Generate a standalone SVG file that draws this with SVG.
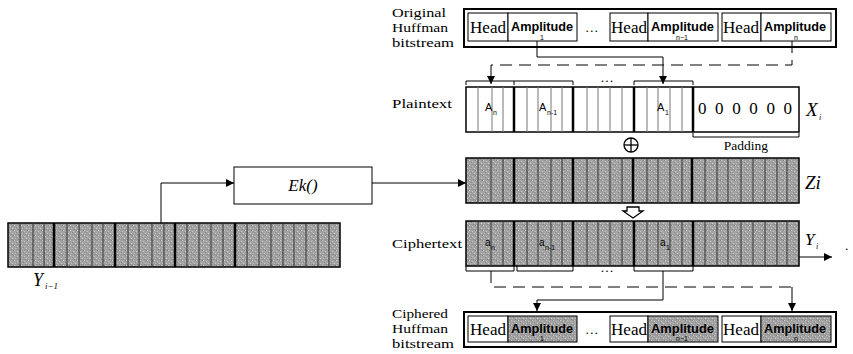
<svg xmlns="http://www.w3.org/2000/svg" width="853" height="354" viewBox="0 0 853 354">
<defs>
<pattern id="tex" width="7" height="5" patternUnits="userSpaceOnUse">
<rect width="7" height="5" fill="#a2a2a2"/>
<rect x="0" y="0" width="1" height="1" fill="#d0d0d0"/>
<rect x="3" y="1" width="1" height="1" fill="#c6c6c6"/>
<rect x="5" y="3" width="1" height="1" fill="#d2d2d2"/>
<rect x="1" y="3" width="1" height="1" fill="#bcbcbc"/>
<rect x="4" y="4" width="1" height="1" fill="#7c7c7c"/>
<rect x="6" y="0" width="1" height="1" fill="#808080"/>
<rect x="2" y="2" width="1" height="1" fill="#888"/>
<rect x="0" y="4" width="7" height="0.5" fill="#959595"/>
</pattern>
<marker id="ah" viewBox="0 0 8 8" refX="8" refY="4" markerWidth="8" markerHeight="8" markerUnits="userSpaceOnUse" orient="auto">
<path d="M0,0 L8,4 L0,8 z" fill="#000"/>
</marker>
</defs>
<style>
.lbl{font-family:"Liberation Serif",serif;font-size:13.5px;fill:#000}
.head{font-family:"Liberation Serif",serif;font-size:16px;fill:#000}
.amp{font-family:"Liberation Sans",sans-serif;font-size:13px;font-weight:bold;fill:#000}
.sub{font-family:"Liberation Sans",sans-serif;font-size:7px;fill:#000}
.it{font-family:"Liberation Serif",serif;font-style:italic;fill:#000}
.box{fill:#fff;stroke:#000;stroke-width:1}
.outer{fill:#fff;stroke:#000;stroke-width:2}
.gray{fill:url(#tex);stroke:#000;stroke-width:1.5}
.thick{stroke:#000;stroke-width:2.5}
.thin{stroke:#333;stroke-width:1}
.pthin{stroke:#777;stroke-width:1}
.wire{fill:none;stroke:#000;stroke-width:1}
.dash{fill:none;stroke:#000;stroke-width:1;stroke-dasharray:12,7}
.brace{fill:none;stroke:#000;stroke-width:1}
</style>

<!-- Original Huffman bitstream -->
<g id="orig-label">
<text class="lbl" x="392" y="17" textLength="54" lengthAdjust="spacingAndGlyphs">Original</text>
<text class="lbl" x="392" y="32" textLength="56" lengthAdjust="spacingAndGlyphs">Huffman</text>
<text class="lbl" x="392" y="47" textLength="62" lengthAdjust="spacingAndGlyphs">bitstream</text>
</g>
<g id="orig-stream">
<rect class="outer" x="464" y="9" width="372" height="38"/>
<rect class="box" x="468" y="13" width="40" height="28"/>
<rect class="box" x="508" y="13" width="69" height="28"/>
<text class="head" x="470" y="33" textLength="36" lengthAdjust="spacingAndGlyphs">Head</text>
<text class="amp" x="511" y="31" textLength="62" lengthAdjust="spacingAndGlyphs">Amplitude</text>
<text class="sub" x="540" y="40">1</text>
<text class="lbl" x="585" y="32">…</text>
<rect class="box" x="610" y="13" width="38" height="28"/>
<rect class="box" x="648" y="13" width="70" height="28"/>
<text class="head" x="611" y="33" textLength="36" lengthAdjust="spacingAndGlyphs">Head</text>
<text class="amp" x="651" y="31" textLength="63" lengthAdjust="spacingAndGlyphs">Amplitude</text>
<text class="sub" x="676" y="40">n−1</text>
<rect class="box" x="722" y="13" width="39" height="28"/>
<rect class="box" x="761" y="13" width="70" height="28"/>
<text class="head" x="723" y="33" textLength="36" lengthAdjust="spacingAndGlyphs">Head</text>
<text class="amp" x="764" y="31" textLength="62" lengthAdjust="spacingAndGlyphs">Amplitude</text>
<text class="sub" x="794" y="40">n</text>
</g>

<!-- Plaintext row -->
<g id="plaintext">
<text class="lbl" x="392" y="108" textLength="60" lengthAdjust="spacingAndGlyphs">Plaintext</text>
<rect x="466" y="87" width="333" height="45" fill="#fff" stroke="#000" stroke-width="1.5"/>
<g class="pthin">
<line x1="478" y1="87" x2="478" y2="132"/><line x1="492" y1="87" x2="492" y2="132"/><line x1="503" y1="87" x2="503" y2="132"/>
<line x1="527" y1="87" x2="527" y2="132"/><line x1="538" y1="87" x2="538" y2="132"/><line x1="551" y1="87" x2="551" y2="132"/><line x1="562" y1="87" x2="562" y2="132"/>
<line x1="587" y1="87" x2="587" y2="132"/><line x1="598" y1="87" x2="598" y2="132"/><line x1="610" y1="87" x2="610" y2="132"/><line x1="622" y1="87" x2="622" y2="132"/>
<line x1="647" y1="87" x2="647" y2="132"/><line x1="658" y1="87" x2="658" y2="132"/><line x1="670" y1="87" x2="670" y2="132"/><line x1="682" y1="87" x2="682" y2="132"/>
</g>
<g class="thick">
<line x1="514" y1="87" x2="514" y2="132"/><line x1="573" y1="87" x2="573" y2="132"/><line x1="634" y1="87" x2="634" y2="132"/><line x1="693" y1="87" x2="693" y2="132"/>
</g>
<text class="amp" style="font-weight:normal;font-size:11px" x="485" y="111">A</text><text class="sub" x="493" y="115">n</text>
<text class="amp" style="font-weight:normal;font-size:11px" x="539" y="111">A</text><text class="sub" x="547" y="115">n-1</text>
<text class="amp" style="font-weight:normal;font-size:11px" x="657" y="111">A</text><text class="sub" x="665" y="115">1</text>
<text class="lbl" x="698" y="114" style="font-size:17px" textLength="94" lengthAdjust="spacing">0 0 0 0 0 0</text>
<text class="it" x="806" y="116" font-size="19">X</text><text class="it" x="819" y="120" font-size="8">i</text>
<path class="brace" d="M693,133 V137 H799 V133"/>
<text class="lbl" x="746" y="150" text-anchor="middle" font-size="11">Padding</text>
<path class="brace" d="M466,85 V81 H514 V85 M514,81 H573 V85 M634,85 V81 H693 V85"/>
<text class="lbl" x="607" y="82" text-anchor="middle" font-size="10">…</text>
</g>

<!-- XOR -->
<g id="xor">
<circle cx="631" cy="145" r="7" fill="#fff" stroke="#000" stroke-width="1.3"/>
<line x1="624" y1="145" x2="638" y2="145" stroke="#000" stroke-width="1.3"/>
<line x1="631" y1="138" x2="631" y2="152" stroke="#000" stroke-width="1.3"/>
</g>

<!-- Zi row -->
<g id="zi">
<rect class="gray" x="466" y="158" width="333" height="45"/>
<g class="thin">
<line x1="478" y1="158" x2="478" y2="203"/><line x1="491" y1="158" x2="491" y2="203"/><line x1="503" y1="158" x2="503" y2="203"/>
<line x1="527" y1="158" x2="527" y2="203"/><line x1="538" y1="158" x2="538" y2="203"/><line x1="551" y1="158" x2="551" y2="203"/><line x1="562" y1="158" x2="562" y2="203"/>
<line x1="587" y1="158" x2="587" y2="203"/><line x1="598" y1="158" x2="598" y2="203"/><line x1="610" y1="158" x2="610" y2="203"/><line x1="622" y1="158" x2="622" y2="203"/>
<line x1="647" y1="158" x2="647" y2="203"/><line x1="658" y1="158" x2="658" y2="203"/><line x1="670" y1="158" x2="670" y2="203"/><line x1="682" y1="158" x2="682" y2="203"/>
<line x1="705" y1="158" x2="705" y2="203"/><line x1="717" y1="158" x2="717" y2="203"/><line x1="728" y1="158" x2="728" y2="203"/><line x1="741" y1="158" x2="741" y2="203"/><line x1="753" y1="158" x2="753" y2="203"/><line x1="765" y1="158" x2="765" y2="203"/><line x1="777" y1="158" x2="777" y2="203"/><line x1="787" y1="158" x2="787" y2="203"/>
</g>
<g class="thick">
<line x1="514" y1="158" x2="514" y2="203"/><line x1="573" y1="158" x2="573" y2="203"/><line x1="633" y1="158" x2="633" y2="203"/><line x1="692" y1="158" x2="692" y2="203"/>
</g>
<text class="it" x="805" y="189" font-size="19">Zi</text>
</g>

<!-- hollow arrow -->
<g id="hollow-arrow">
<path d="M627,207 H639 V211 H643 L633,218 L623,211 H627 Z" fill="#fff" stroke="#000" stroke-width="1.3"/>
</g>

<!-- Ciphertext row -->
<g id="ciphertext">
<text class="lbl" x="392" y="248" textLength="70" lengthAdjust="spacingAndGlyphs">Ciphertext</text>
<rect class="gray" x="466" y="221" width="333" height="45"/>
<g class="thin">
<line x1="478" y1="221" x2="478" y2="266"/><line x1="491" y1="221" x2="491" y2="266"/><line x1="503" y1="221" x2="503" y2="266"/>
<line x1="527" y1="221" x2="527" y2="266"/><line x1="538" y1="221" x2="538" y2="266"/><line x1="551" y1="221" x2="551" y2="266"/><line x1="562" y1="221" x2="562" y2="266"/>
<line x1="587" y1="221" x2="587" y2="266"/><line x1="598" y1="221" x2="598" y2="266"/><line x1="610" y1="221" x2="610" y2="266"/><line x1="622" y1="221" x2="622" y2="266"/>
<line x1="647" y1="221" x2="647" y2="266"/><line x1="658" y1="221" x2="658" y2="266"/><line x1="670" y1="221" x2="670" y2="266"/><line x1="682" y1="221" x2="682" y2="266"/>
<line x1="705" y1="221" x2="705" y2="266"/><line x1="717" y1="221" x2="717" y2="266"/><line x1="728" y1="221" x2="728" y2="266"/><line x1="741" y1="221" x2="741" y2="266"/><line x1="753" y1="221" x2="753" y2="266"/><line x1="765" y1="221" x2="765" y2="266"/><line x1="777" y1="221" x2="777" y2="266"/><line x1="787" y1="221" x2="787" y2="266"/>
</g>
<g class="thick">
<line x1="514" y1="221" x2="514" y2="266"/><line x1="573" y1="221" x2="573" y2="266"/><line x1="634" y1="221" x2="634" y2="266"/><line x1="693" y1="221" x2="693" y2="266"/>
</g>
<text class="amp" style="font-weight:normal;font-size:10px" x="485" y="246">a</text><text class="sub" x="491" y="250">n</text>
<text class="amp" style="font-weight:normal;font-size:10px" x="539" y="246">a</text><text class="sub" x="545" y="250">n-1</text>
<text class="amp" style="font-weight:normal;font-size:10px" x="660" y="246">a</text><text class="sub" x="666" y="250">1</text>
<text class="it" x="805" y="245" font-size="17">Y</text><text class="it" x="816" y="249" font-size="8">i</text>
<path class="brace" d="M466,266 V271 H514 V266 M517,266 V271 H573 V266 M634,266 V271 H693 V266"/>
<text class="lbl" x="607" y="272" text-anchor="middle" font-size="10">…</text>
<text class="lbl" x="845" y="250" font-size="10">.</text>
</g>

<!-- Ciphered Huffman bitstream -->
<g id="ciph-label">
<text class="lbl" x="392" y="318" textLength="56" lengthAdjust="spacingAndGlyphs">Ciphered</text>
<text class="lbl" x="392" y="333" textLength="56" lengthAdjust="spacingAndGlyphs">Huffman</text>
<text class="lbl" x="392" y="348" textLength="62" lengthAdjust="spacingAndGlyphs">bitstream</text>
</g>
<g id="ciph-stream">
<rect class="outer" x="464" y="312" width="372" height="35"/>
<rect class="box" x="468" y="316" width="40" height="26"/>
<rect x="508" y="316" width="69" height="26" fill="url(#tex)" stroke="#000" stroke-width="1"/>
<text class="head" x="470" y="335" textLength="36" lengthAdjust="spacingAndGlyphs">Head</text>
<text class="amp" x="511" y="333" textLength="62" lengthAdjust="spacingAndGlyphs">Amplitude</text>
<text class="sub" x="540" y="341">1</text>
<text class="lbl" x="585" y="334">…</text>
<rect class="box" x="610" y="316" width="38" height="26"/>
<rect x="648" y="316" width="70" height="26" fill="url(#tex)" stroke="#000" stroke-width="1"/>
<text class="head" x="611" y="335" textLength="36" lengthAdjust="spacingAndGlyphs">Head</text>
<text class="amp" x="651" y="333" textLength="63" lengthAdjust="spacingAndGlyphs">Amplitude</text>
<text class="sub" x="676" y="341">n−1</text>
<rect class="box" x="722" y="316" width="39" height="26"/>
<rect x="761" y="316" width="70" height="26" fill="url(#tex)" stroke="#000" stroke-width="1"/>
<text class="head" x="723" y="335" textLength="36" lengthAdjust="spacingAndGlyphs">Head</text>
<text class="amp" x="764" y="333" textLength="62" lengthAdjust="spacingAndGlyphs">Amplitude</text>
<text class="sub" x="794" y="341">n</text>
</g>

<!-- Ek box -->
<g id="ek">
<rect x="234" y="167" width="138" height="37" fill="#fff" stroke="#000" stroke-width="1"/>
<text class="it" x="303" y="191" font-size="17" text-anchor="middle">Ek()</text>
</g>

<!-- Y(i-1) bar -->
<g id="y-prev">
<rect class="gray" x="8" y="223" width="332" height="44"/>
<g class="thin">
<line x1="20" y1="223" x2="20" y2="267"/><line x1="33" y1="223" x2="33" y2="267"/><line x1="44" y1="223" x2="44" y2="267"/>
<line x1="67" y1="223" x2="67" y2="267"/><line x1="79" y1="223" x2="79" y2="267"/><line x1="92" y1="223" x2="92" y2="267"/><line x1="103" y1="223" x2="103" y2="267"/>
<line x1="128" y1="223" x2="128" y2="267"/><line x1="139" y1="223" x2="139" y2="267"/><line x1="152" y1="223" x2="152" y2="267"/><line x1="164" y1="223" x2="164" y2="267"/>
<line x1="187" y1="223" x2="187" y2="267"/><line x1="199" y1="223" x2="199" y2="267"/><line x1="211" y1="223" x2="211" y2="267"/><line x1="223" y1="223" x2="223" y2="267"/>
<line x1="247" y1="223" x2="247" y2="267"/><line x1="259" y1="223" x2="259" y2="267"/><line x1="271" y1="223" x2="271" y2="267"/><line x1="283" y1="223" x2="283" y2="267"/><line x1="294" y1="223" x2="294" y2="267"/><line x1="306" y1="223" x2="306" y2="267"/><line x1="318" y1="223" x2="318" y2="267"/><line x1="329" y1="223" x2="329" y2="267"/>
</g>
<g class="thick">
<line x1="54" y1="223" x2="54" y2="267"/><line x1="115" y1="223" x2="115" y2="267"/><line x1="175" y1="223" x2="175" y2="267"/><line x1="235" y1="223" x2="235" y2="267"/>
</g>
<text class="it" x="33" y="286" font-size="18">Y</text><text class="it" x="45" y="289" font-size="9">i−1</text>
</g>

<!-- Connectors -->
<g id="connectors">
<path class="wire" d="M161,223 V183 H234" marker-end="url(#ah)"/>
<path class="wire" d="M372,183 H466" marker-end="url(#ah)"/>
<path class="wire" d="M537,41 V57 H663 V84" marker-end="url(#ah)"/>
<path class="dash" d="M792,41 V65 H491"/>
<path class="wire" d="M491,65 V84" marker-end="url(#ah)"/>
<path class="wire" d="M799,257 H832" marker-end="url(#ah)"/>
<path class="dash" d="M491,271 V287 H792"/>
<path class="wire" d="M792,287 V311" marker-end="url(#ah)"/>
<path class="wire" d="M663,271 V300 H537 V311" marker-end="url(#ah)"/>
</g>
</svg>
